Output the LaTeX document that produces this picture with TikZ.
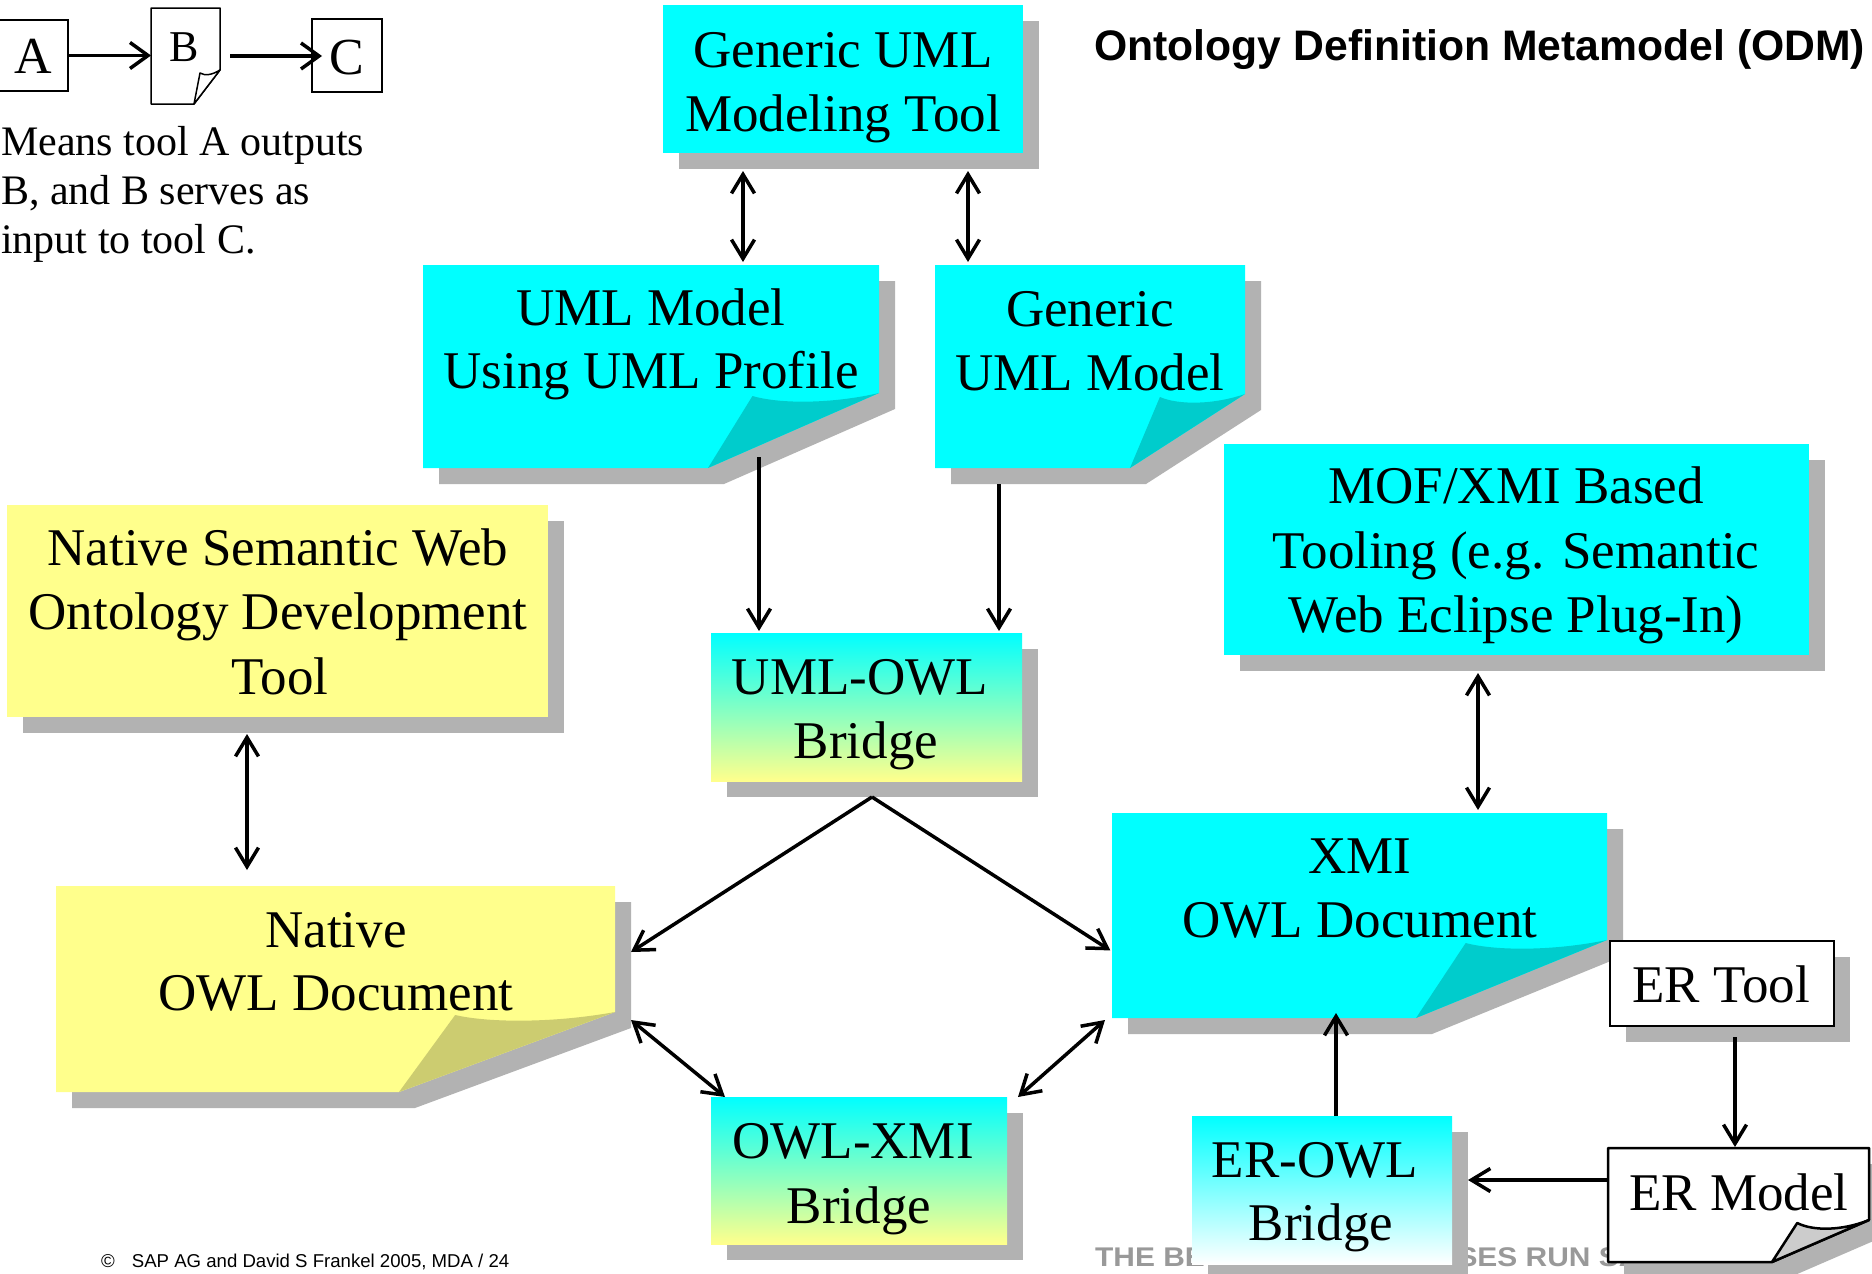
\documentclass[tikz,border=0pt]{standalone}
\usepackage{fontspec}
\setmainfont{Liberation Serif}
\newfontfamily\arialfont{Liberation Sans}
\usetikzlibrary{arrows.meta,fit}

\definecolor{notecyan}{HTML}{00FFFF}
\definecolor{notecyanfold}{HTML}{00CCCC}
\definecolor{noteyellow}{HTML}{FFFF8C}
\definecolor{noteyellowfold}{HTML}{CCCC70}
\definecolor{dropgray}{HTML}{B2B2B2}
\definecolor{markgray}{HTML}{999999}

\tikzset{
  boxtext/.style={font=\fontsize{53}{64}\selectfont, inner sep=0pt, anchor=base},
  legtext/.style={font=\fontsize{42}{50}\selectfont, inner sep=0pt, anchor=base west},
  legletter/.style={font=\fontsize{52}{60}\selectfont, inner sep=0pt, anchor=base},
  conn/.style={line width=3.5pt, -{Straight Barb[length=19pt,width=23pt]}},
  dconn/.style={line width=3.5pt, {Straight Barb[length=19pt,width=23pt]}-{Straight Barb[length=19pt,width=23pt]}},
  legconn/.style={line width=3.5pt, -{Straight Barb[length=18pt,width=26pt]}},
  area/.style={inner sep=0pt, outer sep=0pt},
}

% plain box with a hard drop shadow: name, x1, y1, x2, y2, look
\newcommand\flatbox[6]{%
  \fill[dropgray] ({#2+16},{#3+16}) rectangle ({#4+16},{#5+16});
  \node[area, fit={({#2+16},{#3+16}) ({#4+16},{#5+16})}] (#1-sh) {};
  \node[area, fit={(#2,#3) (#4,#5)}, #6] (#1) {};
}

% document sheet with a curled lower right corner:
% name, x1, y1, x2, y2, corner y on right edge, corner x on bottom edge, sheet look, curl look
\newcommand\stickynote[9]{%
  \fill[dropgray] ({#2+16},{#3+16}) -- ({#4+16},{#3+16}) -- ({#4+16},{#6+16})
     -- ({#7+16},{#5+16}) -- ({#2+16},{#5+16}) -- cycle;
  \node[area, fit={({#2+16},{#3+16}) ({#4+16},{#5+16})}] (#1-sh) {};
  \path[#8] (#2,#3) -- (#4,#3) -- (#4,#6) -- (#7,#5) -- (#2,#5) -- cycle;
  \path[#9] (#7,#5) -- ({#7+0.26*(#4-#7)},{#6+3})
     .. controls ({#7+0.42*(#4-#7)},{#6+11}) and ({#7+0.72*(#4-#7)},{#6+11}) .. (#4,#6) -- cycle;
  \node[area, fit={(#2,#3) (#4,#5)}] (#1) {};
}

\begin{document}
\begin{tikzpicture}[x=1pt, y=-1pt]
\fill[white] (0,0) rectangle (1872,1274);
\useasboundingbox (0,0) rectangle (1872,1274);

% slogan printed along the lower edge, partly hidden by the boxes
\node[font=\arialfont\bfseries\fontsize{27}{27}\selectfont, text=markgray,
      anchor=base west, inner sep=0pt] (slogan) at (1095,1266)
      {\scalebox{1.108}[1]{THE BEST-RUN BUSINESSES RUN SAP}};

% ---------- legend ----------
\node[area, draw, line width=1.5pt, fit={(-2,20) (68,91)}] (legA) {};
\node[legletter] (legA-t) at (33,73) {A};
\draw[line width=1.5pt, fill=white, line join=round]
  (151,8) -- (220,8) -- (220,70) -- (194,104) -- (151,104) -- cycle;
\draw[line width=1.5pt, fill=white, line join=round]
  (194,104) -- (200,73) .. controls (205,76) and (212,75) .. (220,70) -- cycle;
\node[area, fit={(151,8) (220,104)}] (legB) {};
\node[font=\fontsize{44}{50}\selectfont, inner sep=0pt, anchor=base] (legB-t) at (184,61) {B};
\node[area, draw, line width=1.5pt, fit={(312,19) (382,92)}] (legC) {};
\node[legletter] (legC-t) at (347,74) {C};
\draw[legconn] (legA.east) -- (legA.east -| legB.west);
\draw[legconn] ([xshift=10pt]legB.east) -- ([xshift=10pt]legB.east -| legC.west);
\node[legtext] (leg-1) at (1,155) {Means tool A outputs};
\node[legtext] (leg-2) at (1,204) {B, and B serves as};
\node[legtext] (leg-3) at (1,253) {input to tool C.};

% ---------- title and footer ----------
\node[font=\arialfont\bfseries\fontsize{42.7}{50}\selectfont, anchor=base west, inner sep=0pt]
  (title) at (1094,60) {Ontology Definition Metamodel (ODM)};
\node[font=\arialfont\fontsize{18.6}{22}\selectfont, anchor=base west, inner sep=0pt]
  (footer) at (101,1267) {©\hspace{17pt}SAP AG and David S Frankel 2005, MDA / 24};

% ---------- tools and documents ----------
\flatbox{gut}{663}{5}{1023}{153}{fill=notecyan}
\node[boxtext] (gut-1) at (843,67) {Generic UML};
\node[boxtext] (gut-2) at (843,131) {Modeling Tool};

\stickynote{umlp}{423}{265}{879}{468}{393}{708}{fill=notecyan}{fill=notecyanfold}
\node[boxtext] (umlp-1) at (651,325) {UML Model};
\node[boxtext] (umlp-2) at (651,388) {Using UML Profile};

\stickynote{gum}{935}{265}{1245}{468}{394}{1130}{fill=notecyan}{fill=notecyanfold}
\node[boxtext] (gum-1) at (1090,326) {Generic};
\node[boxtext] (gum-2) at (1090,390) {UML Model};

\flatbox{nsw}{7}{505}{548}{717}{fill=noteyellow}
\node[boxtext] (nsw-1) at (278,565) {Native Semantic Web};
\node[boxtext] (nsw-2) at (278,629) {Ontology Development};
\node[boxtext] (nsw-3) at (280,694) {Tool};

\flatbox{uob}{711}{633}{1022}{781}{top color=notecyan, bottom color=noteyellow}
\node[boxtext] (uob-1) at (860,694) {UML-OWL};
\node[boxtext] (uob-2) at (866,758) {Bridge};

\flatbox{mof}{1224}{444}{1809}{655}{fill=notecyan}
\node[boxtext] (mof-1) at (1516,503) {MOF/XMI Based};
\node[boxtext] (mof-2) at (1516,568) {Tooling (e.g. Semantic};
\node[boxtext] (mof-3) at (1516,632) {Web Eclipse Plug-In)};

\stickynote{nod}{56}{886}{615}{1092}{1012}{399}{fill=noteyellow}{fill=noteyellowfold}
\node[boxtext] (nod-1) at (336,947) {Native};
\node[boxtext] (nod-2) at (336,1010) {OWL Document};

\stickynote{xod}{1112}{813}{1607}{1018}{940}{1416}{fill=notecyan}{fill=notecyanfold}
\node[boxtext] (xod-1) at (1360,873) {XMI};
\node[boxtext] (xod-2) at (1360,937) {OWL Document};

\flatbox{oxb}{711}{1097}{1007}{1244}{top color=notecyan, bottom color=noteyellow}
\node[boxtext] (oxb-1) at (853,1158) {OWL-XMI};
\node[boxtext] (oxb-2) at (859,1223) {Bridge};

\flatbox{ert}{1610}{941}{1834}{1026}{fill=white, draw=black, line width=2.5pt}
\node[boxtext] (ert-1) at (1721,1002) {ER Tool};

\stickynote{erm}{1608}{1148}{1869}{1262}{1220}{1772}%
  {fill=white, draw=black, line width=2.5pt, line join=round}%
  {fill=black!20, draw=black, line width=2.5pt, line join=round}
\node[boxtext] (erm-1) at (1739,1210) {ER Model};

\flatbox{eob}{1192}{1116}{1452}{1264}{top color=notecyan, bottom color=white}
\node[boxtext] (eob-1) at (1315,1177) {ER-OWL};
\node[boxtext] (eob-2) at (1321,1240) {Bridge};

% ---------- connectors ----------
\coordinate (gut-l) at ([xshift=64pt]gut-sh.south west);
\coordinate (gut-r) at ([xshift=289pt]gut-sh.south west);
\draw[dconn, shorten <=2pt, shorten >=3pt] (gut-l) -- (gut-l |- umlp.north);
\draw[dconn, shorten <=2pt, shorten >=3pt] (gut-r) -- (gut-r |- gum.north);

\coordinate (umlp-out) at ([xshift=336pt]umlp.south west);
\draw[conn, shorten <=-11pt, shorten >=2pt] (umlp-out) -- (umlp-out |- uob.north);
\coordinate (gum-out) at ([xshift=48pt]gum-sh.south west);
\draw[conn, shorten >=2pt] (gum-out) -- (gum-out |- uob.north);

\coordinate (nsw-out) at ([xshift=224pt]nsw-sh.south west);
\draw[dconn, shorten <=1pt, shorten >=16pt] (nsw-out) -- (nsw-out |- nod.north);

\coordinate (uob-apex) at ([xshift=145pt]uob-sh.south west);
\draw[conn] (uob-apex) -- ([yshift=-50pt]nod-sh.north east);
\draw[conn, shorten >=2pt] (uob-apex) -- ([yshift=-36pt]xod.west);

\draw[dconn] ([yshift=-118pt]nod-sh.north east) -- ([xshift=14pt]oxb.north west);
\draw[dconn] ([xshift=-7pt,yshift=-2pt]xod.south west) -- ([xshift=11pt]oxb.north east);

\coordinate (mof-out) at ([xshift=238pt]mof-sh.south west);
\draw[dconn, shorten <=2pt, shorten >=3pt] (mof-out) -- (mof-out |- xod.north);

\coordinate (eob-in) at ([xshift=144pt]eob.north west);
\draw[conn, shorten >=-5pt] (eob-in) -- (eob-in |- xod.south);

\coordinate (ert-out) at ([xshift=125pt]ert.south west);
\draw[conn, shorten <=11pt, shorten >=1pt] (ert-out) -- (ert-out |- erm.north);

\coordinate (erm-out) at ([yshift=-32pt]erm.north west);
\draw[conn] (erm-out) -- (erm-out -| eob-sh.east);
\end{tikzpicture}
\end{document}
